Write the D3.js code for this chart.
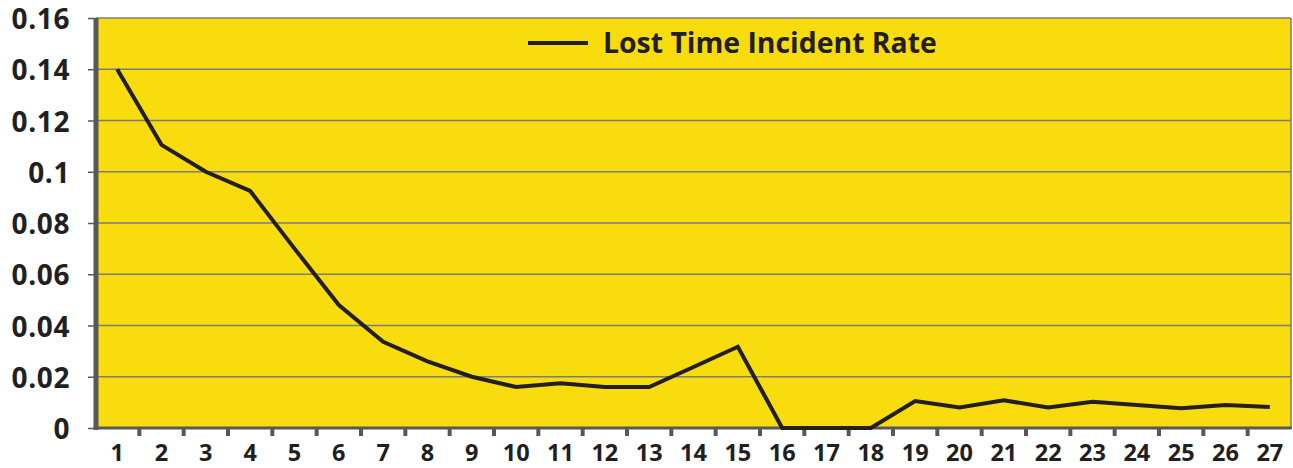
<!DOCTYPE html>
<html>
<head>
<meta charset="utf-8">
<script src="https://cdn.jsdelivr.net/npm/d3@7"></script>
<style>
  html, body { margin: 0; padding: 0; background: #ffffff; }
  svg { display: block; }
</style>
</head>
<body>
<svg id="chart" width="1293" height="468"></svg>
<script>
// ---- data ----
const categories = ["1","2","3","4","5","6","7","8","9","10","11","12","13","14","15","16","17","18","19","20","21","22","23","24","25","26","27"];
const lostTimeIncidentRate = [0.14, 0.1105, 0.1, 0.0925, 0.07, 0.048, 0.0336, 0.026, 0.02, 0.016, 0.0175, 0.016, 0.016, 0.0238, 0.0317, 0, 0, 0, 0.0105, 0.008, 0.0108, 0.008, 0.0102, 0.009, 0.0077, 0.009, 0.0082];
const yTickValues = [0, 0.02, 0.04, 0.06, 0.08, 0.1, 0.12, 0.14, 0.16];
const yTickLabels = ["0", "0.02", "0.04", "0.06", "0.08", "0.1", "0.12", "0.14", "0.16"];
const seriesName = "Lost Time Incident Rate";

(function () {
// ---- layout ----
const svg = d3.select("#chart");
const pLeft = 96, pRight = 1291, pTop = 18, pBottom = 428;
const yellow = "#F9DC0D";
const gridColor = "#7d7d78";
const axisColor = "#58585a";
const lineColor = "#231f20";
const fontFamily = "'Open Sans', 'Noto Sans', sans-serif";

const x = d3.scaleBand().domain(categories).range([pLeft - 1, pRight + 1]).paddingInner(0).paddingOuter(0);
const y = d3.scaleLinear().domain([0, 0.16]).range([pBottom, pTop]);

// background
svg.append("rect")
  .attr("x", pLeft).attr("y", pTop)
  .attr("width", pRight - pLeft).attr("height", pBottom - pTop)
  .attr("fill", yellow);

// gridlines
svg.append("g").selectAll("line")
  .data(yTickValues.filter(v => v > 0))
  .join("line")
  .attr("x1", pLeft).attr("x2", pRight)
  .attr("y1", d => y(d)).attr("y2", d => y(d))
  .attr("stroke", gridColor).attr("stroke-width", 1.5);

// right border
svg.append("line")
  .attr("x1", pRight).attr("x2", pRight)
  .attr("y1", pTop).attr("y2", pBottom)
  .attr("stroke", gridColor).attr("stroke-width", 1.5);

// y axis
const yAxis = svg.append("g")
  .attr("transform", `translate(${pLeft},0)`)
  .call(d3.axisLeft(y).tickValues(yTickValues)
    .tickFormat((d, i) => yTickLabels[i])
    .tickSize(8).tickPadding(18));
yAxis.select(".domain").remove();
yAxis.selectAll(".tick line").attr("stroke", axisColor).attr("stroke-width", 1.5);
yAxis.selectAll(".tick text")
  .attr("fill", lineColor)
  .style("font-family", fontFamily)
  .style("font-weight", "700")
  .style("font-size", "28px")
  .style("letter-spacing", "0.6px")
  .attr("dy", "0.38em");
svg.append("line")
  .attr("x1", pLeft).attr("x2", pLeft)
  .attr("y1", pTop).attr("y2", pBottom + 2)
  .attr("stroke", axisColor).attr("stroke-width", 5);

// x axis
const xAxis = svg.append("g")
  .attr("transform", `translate(0,${pBottom})`)
  .call(d3.axisBottom(x).tickSize(0).tickPadding(16));
xAxis.select(".domain").remove();
xAxis.selectAll(".tick text")
  .attr("fill", lineColor)
  .style("font-family", fontFamily)
  .style("font-weight", "700")
  .style("font-size", "23.5px");
// boundary ticks
svg.append("g").selectAll("line")
  .data(categories.slice(1))
  .join("line")
  .attr("x1", d => x(d)).attr("x2", d => x(d))
  .attr("y1", pBottom).attr("y2", pBottom + 8)
  .attr("stroke", axisColor).attr("stroke-width", 4);
svg.append("line")
  .attr("x1", pLeft - 2.5).attr("x2", pRight + 0.75)
  .attr("y1", pBottom).attr("y2", pBottom)
  .attr("stroke", axisColor).attr("stroke-width", 3);

// line
const line = d3.line()
  .x((d, i) => x(categories[i]) + x.bandwidth() / 2)
  .y(d => y(d));
svg.append("path")
  .datum(lostTimeIncidentRate)
  .attr("d", line)
  .attr("fill", "none")
  .attr("stroke", lineColor)
  .attr("stroke-width", 4)
  .attr("stroke-linejoin", "miter");

// legend
const lg = svg.append("g");
lg.append("line")
  .attr("x1", 528).attr("x2", 588)
  .attr("y1", 43).attr("y2", 43)
  .attr("stroke", lineColor).attr("stroke-width", 4);
const lt = lg.append("text")
  .attr("x", 603).attr("y", 53)
  .attr("fill", lineColor)
  .style("font-family", fontFamily)
  .style("font-weight", "700")
  .style("font-size", "28px")
  .text(seriesName);
const targetW = 334;
const w = lt.node().getComputedTextLength();
if (w > 0) lt.style("font-size", (28 * targetW / w).toFixed(2) + "px");
})();
</script>
</body>
</html>
